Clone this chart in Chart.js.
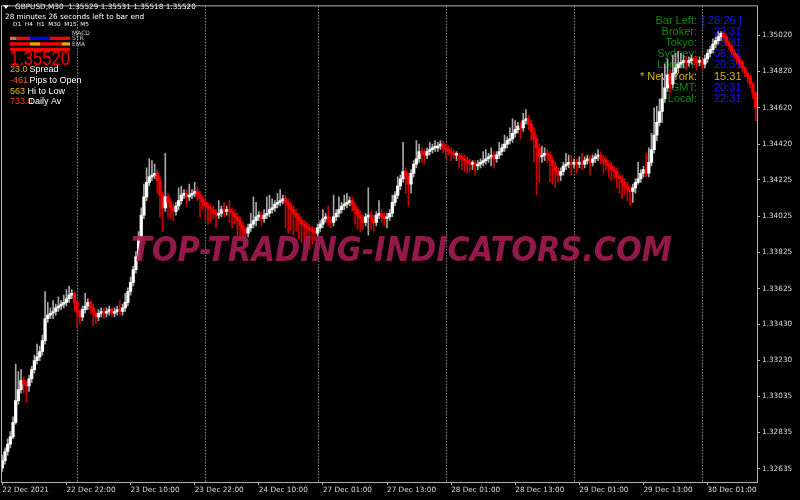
<!DOCTYPE html>
<html>
<head>
<meta charset="utf-8">
<script src="https://cdn.jsdelivr.net/npm/chart.js@4.4.1/dist/chart.umd.min.js"></script>
<style>
  html, body { margin: 0; padding: 0; background: #000; }
  #wrap { width: 800px; height: 500px; position: relative; }
</style>
</head>
<body>
<div id="wrap"><canvas id="chart"></canvas></div>
<script>
// GBPUSD M30, 22 Dec 2021 10:00 .. 30 Dec 2021 10:00, one entry per bar
const firstOpen = 1.3264;
const closes = [
  1.3268, 1.3273, 1.3277, 1.3281, 1.3289, 1.3301, 1.3307, 1.3312, 1.3310, 1.3309,
  1.3313, 1.3318, 1.3323, 1.3325, 1.3328, 1.3334, 1.3346, 1.3348, 1.3349, 1.3350,
  1.3352, 1.3353, 1.3354, 1.3355, 1.3357, 1.3359, 1.3360, 1.3355, 1.3350, 1.3347,
  1.3351, 1.3353, 1.3355, 1.3352, 1.3349, 1.3347, 1.3349, 1.3350, 1.3349, 1.3350,
  1.3351, 1.3349, 1.3350, 1.3351, 1.3350, 1.3352, 1.3355, 1.3361, 1.3366, 1.3373,
  1.3380, 1.3391, 1.3403, 1.3413, 1.3421, 1.3424, 1.3425, 1.3426, 1.3422, 1.3414,
  1.3407, 1.3413, 1.3410, 1.3407, 1.3405, 1.3408, 1.3411, 1.3414, 1.3415, 1.3413,
  1.3414, 1.3415, 1.3416, 1.3414, 1.3412, 1.3410, 1.3408, 1.3407, 1.3406, 1.3404,
  1.3403, 1.3404, 1.3406, 1.3405, 1.3406, 1.3405, 1.3404, 1.3402, 1.3400, 1.3397,
  1.3395, 1.3393, 1.3396, 1.3398, 1.3400, 1.3402, 1.3403, 1.3401, 1.3403, 1.3404,
  1.3406, 1.3407, 1.3409, 1.3410, 1.3411, 1.3412, 1.3410, 1.3408, 1.3406, 1.3404,
  1.3402, 1.3400, 1.3398, 1.3397, 1.3396, 1.3395, 1.3394, 1.3393, 1.3396, 1.3398,
  1.3401, 1.3402, 1.3400, 1.3399, 1.3402, 1.3404, 1.3406, 1.3408, 1.3409, 1.3410,
  1.3411, 1.3408, 1.3406, 1.3403, 1.3401, 1.3399, 1.3402, 1.3403, 1.3401, 1.3399,
  1.3403, 1.3404, 1.3402, 1.3401, 1.3402, 1.3404, 1.3410, 1.3414, 1.3419, 1.3423,
  1.3427, 1.3424, 1.3420, 1.3426, 1.3431, 1.3434, 1.3438, 1.3437, 1.3436, 1.3438,
  1.3439, 1.3440, 1.3440, 1.3441, 1.3442, 1.3440, 1.3439, 1.3438, 1.3437, 1.3436,
  1.3436, 1.3435, 1.3434, 1.3433, 1.3432, 1.3431, 1.3431, 1.3430, 1.3431, 1.3432,
  1.3433, 1.3434, 1.3435, 1.3436, 1.3434, 1.3436, 1.3438, 1.3440, 1.3442, 1.3444,
  1.3445, 1.3448, 1.3450, 1.3452, 1.3451, 1.3455, 1.3456, 1.3453, 1.3449, 1.3445,
  1.3440, 1.3435, 1.3436, 1.3437, 1.3436, 1.3433, 1.3430, 1.3427, 1.3425, 1.3427,
  1.3430, 1.3431, 1.3432, 1.3431, 1.3432, 1.3431, 1.3432, 1.3431, 1.3433, 1.3434,
  1.3432, 1.3434, 1.3435, 1.3436, 1.3434, 1.3433, 1.3431, 1.3430, 1.3428, 1.3427,
  1.3424, 1.3423, 1.3421, 1.3419, 1.3417, 1.3416, 1.3418, 1.3421, 1.3423, 1.3426,
  1.3428, 1.3426, 1.3432, 1.3439, 1.3447, 1.3454, 1.3460, 1.3467, 1.3473, 1.3480,
  1.3475, 1.3481, 1.3484, 1.3486, 1.3487, 1.3488, 1.3487, 1.3488, 1.3489, 1.3488,
  1.3487, 1.3488, 1.3486, 1.3489, 1.3492, 1.3494, 1.3497, 1.3499, 1.3501, 1.3503,
  1.3501, 1.3498, 1.3496, 1.3493, 1.3491, 1.3489, 1.3487, 1.3484, 1.3481, 1.3479,
  1.3475, 1.3470, 1.3462
];
const highs = [
  1.3271, 1.3275, 1.3280, 1.3284, 1.3292, 1.3321, 1.3317, 1.3318, 1.3314, 1.3312,
  1.3315, 1.3320, 1.3326, 1.3332, 1.3331, 1.3337, 1.3361, 1.3355, 1.3352, 1.3356,
  1.3354, 1.3358, 1.3356, 1.3359, 1.3362, 1.3364, 1.3362, 1.3361, 1.3356, 1.3351,
  1.3353, 1.3360, 1.3357, 1.3356, 1.3354, 1.3350, 1.3351, 1.3352, 1.3352, 1.3352,
  1.3353, 1.3352, 1.3352, 1.3353, 1.3356, 1.3354, 1.3360, 1.3363, 1.3369, 1.3375,
  1.3383, 1.3394, 1.3407, 1.3420, 1.3429, 1.3434, 1.3433, 1.3431, 1.3428, 1.3424,
  1.3416, 1.3437, 1.3415, 1.3412, 1.3409, 1.3410, 1.3418, 1.3419, 1.3417, 1.3417,
  1.3420, 1.3417, 1.3421, 1.3418, 1.3416, 1.3414, 1.3412, 1.3410, 1.3409, 1.3408,
  1.3406, 1.3411, 1.3408, 1.3410, 1.3408, 1.3411, 1.3407, 1.3406, 1.3404, 1.3402,
  1.3399, 1.3397, 1.3398, 1.3404, 1.3413, 1.3410, 1.3405, 1.3405, 1.3406, 1.3413,
  1.3414, 1.3412, 1.3411, 1.3415, 1.3417, 1.3414, 1.3414, 1.3412, 1.3410, 1.3408,
  1.3406, 1.3404, 1.3402, 1.3400, 1.3399, 1.3398, 1.3397, 1.3396, 1.3398, 1.3400,
  1.3406, 1.3404, 1.3408, 1.3402, 1.3414, 1.3406, 1.3413, 1.3410, 1.3414, 1.3415,
  1.3413, 1.3413, 1.3410, 1.3408, 1.3405, 1.3403, 1.3404, 1.3418, 1.3405, 1.3403,
  1.3405, 1.3411, 1.3406, 1.3404, 1.3404, 1.3406, 1.3414, 1.3416, 1.3424, 1.3425,
  1.3443, 1.3429, 1.3426, 1.3428, 1.3433, 1.3444, 1.3442, 1.3440, 1.3439, 1.3440,
  1.3443, 1.3442, 1.3444, 1.3443, 1.3444, 1.3444, 1.3442, 1.3441, 1.3440, 1.3439,
  1.3438, 1.3437, 1.3437, 1.3436, 1.3435, 1.3434, 1.3433, 1.3433, 1.3433, 1.3434,
  1.3438, 1.3439, 1.3437, 1.3440, 1.3438, 1.3438, 1.3443, 1.3442, 1.3447, 1.3446,
  1.3451, 1.3456, 1.3455, 1.3454, 1.3454, 1.3459, 1.3461, 1.3458, 1.3455, 1.3451,
  1.3447, 1.3442, 1.3441, 1.3440, 1.3439, 1.3438, 1.3435, 1.3432, 1.3429, 1.3429,
  1.3432, 1.3437, 1.3436, 1.3436, 1.3434, 1.3434, 1.3435, 1.3437, 1.3435, 1.3436,
  1.3436, 1.3436, 1.3437, 1.3439, 1.3438, 1.3436, 1.3435, 1.3433, 1.3432, 1.3430,
  1.3429, 1.3426, 1.3425, 1.3423, 1.3421, 1.3419, 1.3420, 1.3423, 1.3432, 1.3428,
  1.3430, 1.3437, 1.3440, 1.3448, 1.3462, 1.3463, 1.3467, 1.3481, 1.3486, 1.3489,
  1.3483, 1.3491, 1.3492, 1.3493, 1.3492, 1.3491, 1.3490, 1.3490, 1.3491, 1.3490,
  1.3490, 1.3490, 1.3489, 1.3491, 1.3494, 1.3496, 1.3500, 1.3501, 1.3504, 1.3504,
  1.3504, 1.3502, 1.3499, 1.3497, 1.3494, 1.3492, 1.3490, 1.3488, 1.3485, 1.3482,
  1.3480, 1.3476, 1.3471
];
const lows = [
  1.3262, 1.3266, 1.3271, 1.3275, 1.3280, 1.3288, 1.3299, 1.3305, 1.3305, 1.3300,
  1.3306, 1.3311, 1.3316, 1.3321, 1.3323, 1.3326, 1.3332, 1.3344, 1.3346, 1.3346,
  1.3348, 1.3350, 1.3351, 1.3352, 1.3353, 1.3355, 1.3357, 1.3350, 1.3341, 1.3343,
  1.3345, 1.3349, 1.3351, 1.3349, 1.3342, 1.3343, 1.3345, 1.3347, 1.3346, 1.3347,
  1.3348, 1.3347, 1.3347, 1.3348, 1.3348, 1.3348, 1.3350, 1.3353, 1.3359, 1.3364,
  1.3371, 1.3378, 1.3389, 1.3401, 1.3411, 1.3419, 1.3422, 1.3423, 1.3415, 1.3402,
  1.3394, 1.3405, 1.3402, 1.3401, 1.3400, 1.3403, 1.3406, 1.3409, 1.3412, 1.3408,
  1.3411, 1.3412, 1.3413, 1.3411, 1.3402, 1.3406, 1.3400, 1.3398, 1.3399, 1.3401,
  1.3396, 1.3401, 1.3402, 1.3402, 1.3403, 1.3399, 1.3396, 1.3398, 1.3390, 1.3389,
  1.3390, 1.3388, 1.3391, 1.3394, 1.3396, 1.3397, 1.3400, 1.3397, 1.3399, 1.3401,
  1.3402, 1.3404, 1.3405, 1.3407, 1.3408, 1.3409, 1.3396, 1.3393, 1.3395, 1.3392,
  1.3394, 1.3390, 1.3388, 1.3386, 1.3388, 1.3384, 1.3387, 1.3389, 1.3391, 1.3394,
  1.3396, 1.3399, 1.3397, 1.3396, 1.3397, 1.3400, 1.3402, 1.3404, 1.3406, 1.3407,
  1.3408, 1.3405, 1.3398, 1.3395, 1.3394, 1.3395, 1.3397, 1.3392, 1.3395, 1.3394,
  1.3397, 1.3401, 1.3399, 1.3397, 1.3396, 1.3400, 1.3402, 1.3408, 1.3412, 1.3417,
  1.3421, 1.3415, 1.3408, 1.3415, 1.3424, 1.3429, 1.3432, 1.3432, 1.3431, 1.3434,
  1.3436, 1.3437, 1.3438, 1.3438, 1.3439, 1.3437, 1.3434, 1.3436, 1.3433, 1.3434,
  1.3433, 1.3429, 1.3428, 1.3427, 1.3426, 1.3427, 1.3428, 1.3425, 1.3428, 1.3429,
  1.3430, 1.3431, 1.3432, 1.3430, 1.3429, 1.3432, 1.3434, 1.3436, 1.3438, 1.3440,
  1.3442, 1.3443, 1.3446, 1.3448, 1.3445, 1.3449, 1.3453, 1.3450, 1.3444, 1.3432,
  1.3414, 1.3421, 1.3432, 1.3433, 1.3432, 1.3421, 1.3420, 1.3418, 1.3421, 1.3422,
  1.3425, 1.3428, 1.3429, 1.3425, 1.3429, 1.3426, 1.3429, 1.3428, 1.3429, 1.3431,
  1.3425, 1.3430, 1.3432, 1.3433, 1.3431, 1.3426, 1.3428, 1.3424, 1.3422, 1.3423,
  1.3418, 1.3415, 1.3412, 1.3414, 1.3411, 1.3408, 1.3410, 1.3415, 1.3420, 1.3421,
  1.3424, 1.3424, 1.3424, 1.3430, 1.3437, 1.3444, 1.3452, 1.3454, 1.3465, 1.3471,
  1.3470, 1.3473, 1.3479, 1.3482, 1.3484, 1.3484, 1.3483, 1.3485, 1.3486, 1.3485,
  1.3483, 1.3485, 1.3483, 1.3484, 1.3487, 1.3490, 1.3492, 1.3495, 1.3497, 1.3499,
  1.3499, 1.3496, 1.3494, 1.3491, 1.3489, 1.3486, 1.3484, 1.3482, 1.3479, 1.3476,
  1.3473, 1.3467, 1.3455
];

// time axis: bar index of each label, label text, first bar of each day
const xTickBars = [0, 24, 48, 72, 96, 120, 144, 168, 192, 216, 240, 264];
const xTickText = ['22 Dec 2021', '22 Dec 22:00', '23 Dec 10:00', '23 Dec 22:00', '24 Dec 10:00', '27 Dec 01:00',
                   '27 Dec 13:00', '28 Dec 01:00', '28 Dec 13:00', '29 Dec 01:00', '29 Dec 13:00', '30 Dec 01:00'];
const daySepBars = [28, 76, 118, 166, 214, 262];

// price axis
const yTickValues = [1.35020, 1.34820, 1.34620, 1.34420, 1.34225, 1.34025, 1.33825,
                     1.33625, 1.33430, 1.33230, 1.33035, 1.32835, 1.32635];
const yMin = 1.32562;
const yMax = 1.35178;

// an M30 bar opens where the previous one closed
const opens = closes.map((c, i) => i === 0 ? firstOpen : closes[i - 1]);
const bull = closes.map((c, i) => c >= opens[i]);

function fitText(ctx, text, x, y, w) {
  const m = ctx.measureText(text).width;
  ctx.save();
  ctx.translate(x, y);
  ctx.scale(w / m, 1);
  ctx.fillText(text, 0, 0);
  ctx.restore();
}

const mtOverlay = {
  id: 'mtOverlay',
  beforeDatasetsDraw(chart) {
    const ctx = chart.ctx, ca = chart.chartArea, xs = chart.scales.x;
    ctx.save();

    // period separators
    ctx.strokeStyle = '#c8c8c8';
    ctx.lineWidth = 1;
    ctx.setLineDash([1, 2]);
    daySepBars.forEach(b => {
      const px = Math.round(xs.getPixelForValue(b)) + 0.5;
      ctx.beginPath();
      ctx.moveTo(px, ca.top);
      ctx.lineTo(px, ca.bottom);
      ctx.stroke();
    });
    ctx.setLineDash([]);

    // clock panel (top right)
    const rows = [
      ['Bar Left:', '[ 28:26 ]', 24], ['Broker:', '22:31', 35.2], ['Tokyo:', '05:31', 46.3],
      ['Sydney:', '06:31', 57.4], ['London:', '20:31', 68.4], ['* New York:', '15:31', 79.5],
      ['GMT:', '20:31', 90.6], ['Local:', '22:31', 101.6]
    ];
    ctx.font = '11px "Liberation Sans"';
    ctx.textBaseline = 'alphabetic';
    rows.forEach(r => {
      const ny = r[0] === '* New York:';
      ctx.textAlign = 'right';
      ctx.fillStyle = ny ? '#dcb400' : '#0c8a0c';
      ctx.fillText(r[0], 697, r[2]);
      ctx.textAlign = 'left';
      ctx.fillStyle = ny ? '#dcb400' : '#1818ff';
      ctx.fillText(r[1], r[1][0] === '[' ? 702 : 714, r[2]);
    });

    // info block (top left)
    ctx.textAlign = 'left';
    ctx.fillStyle = '#ffffff';
    ctx.beginPath();
    ctx.moveTo(3, 5); ctx.lineTo(9, 5); ctx.lineTo(6, 9);
    ctx.closePath();
    ctx.fill();
    ctx.font = '7.3px "DejaVu Sans"';
    ctx.textBaseline = 'middle';
    ctx.fillText('GBPUSD,M30  1.35529 1.35531 1.35518 1.35520', 15, 7.5);
    ctx.fillText('28 minutes 26 seconds left to bar end', 5, 17.5);
    ctx.font = '5.5px "DejaVu Sans"';
    fitText(ctx, 'D1  H4  H1  M30  M15  M5', 13, 24.5, 76);
    ctx.fillStyle = '#c8c8c8';
    ctx.font = '6px "DejaVu Sans"';
    ctx.fillText('MACD', 72, 33);
    ctx.fillText('STR', 72, 38.5);
    ctx.fillText('EMA', 72, 44);

    const strips = [
      [36.7, [[10, 16.7, '#f06050'], [16.7, 30, '#ff0000'], [30, 50, '#0000ff'], [50, 70, '#ff0000']]],
      [42.3, [[10, 30, '#ff0000'], [30, 40, '#ffa000'], [40, 61.7, '#ff0000'], [61.7, 70, '#ffa000']]],
      [47.7, [[10, 70, '#ff0000']]]
    ];
    strips.forEach(s => s[1].forEach(seg => {
      ctx.fillStyle = seg[2];
      ctx.fillRect(seg[0], s[0], seg[1] - seg[0], 3.3);
    }));

    ctx.textBaseline = 'alphabetic';
    ctx.fillStyle = '#ff0000';
    ctx.font = '20px "Liberation Sans"';
    fitText(ctx, '1.35520', 10, 65, 60);

    const stats = [
      ['23.0', '#dcbc10', 'Spread', 29.5, 71.7],
      ['-461', '#f25c24', 'Pips to Open', 29.5, 83],
      ['563', '#dcc400', 'Hi to Low', 27.5, 94],
      ['733.0', '#e84a14', 'Daily Av', 28.5, 104.3]
    ];
    ctx.font = '9px "Liberation Sans"';
    stats.forEach(s => {
      ctx.fillStyle = s[1];
      ctx.fillText(s[0], 10, s[4]);
      ctx.fillStyle = '#ffffff';
      ctx.fillText(s[2], s[3], s[4]);
    });
    ctx.restore();
  },
  afterDatasetsDraw(chart) {
    const ctx = chart.ctx, ca = chart.chartArea;
    ctx.save();
    // watermark
    ctx.globalAlpha = 0.9;
    ctx.fillStyle = '#a31c52';
    ctx.font = 'italic bold 33px "DejaVu Sans"';
    ctx.textBaseline = 'alphabetic';
    fitText(ctx, 'TOP-TRADING-INDICATORS.COM', 131, 260.5, 541);
    ctx.globalAlpha = 1;
    // chart frame
    ctx.strokeStyle = '#b4b4b4';
    ctx.lineWidth = 1;
    ctx.strokeRect(ca.left + 0.5, ca.top - 0.5, ca.right - ca.left, ca.bottom - ca.top + 1);
    ctx.restore();
  }
};

const axisFont = { family: 'DejaVu Sans', size: 7.3 };

new Chart(document.getElementById('chart'), {
  type: 'bar',
  data: {
    labels: closes.map((c, i) => i),
    datasets: [
      {
        label: 'body',
        data: opens.map((o, i) => [o, closes[i]]),
        backgroundColor: bull.map(b => b ? '#ffffff' : '#ff0000'),
        barThickness: 2.6,
        minBarLength: 1.5,
        grouped: false,
        order: 0
      },
      {
        label: 'wick',
        data: lows.map((l, i) => [l, highs[i]]),
        backgroundColor: bull.map(b => b ? '#a8a8a8' : '#cc0000'),
        barThickness: 1,
        grouped: false,
        order: 1
      }
    ]
  },
  options: {
    responsive: true,
    maintainAspectRatio: false,
    animation: false,
    layout: { padding: { left: 1, top: 2, right: 0, bottom: 0 } },
    plugins: { legend: { display: false }, tooltip: { enabled: false } },
    scales: {
      x: {
        offset: true,
        grid: { offset: false, drawOnChartArea: false, drawTicks: true, tickLength: 3, color: '#b4b4b4' },
        border: { display: false },
        ticks: {
          autoSkip: false, maxRotation: 0, align: 'start', padding: 1,
          color: '#dcdcdc', font: axisFont,
          callback: v => xTickText[xTickBars.indexOf(v)]
        },
        afterBuildTicks: s => { s.ticks = xTickBars.map(v => ({ value: v })); },
        afterFit: s => { s.height = 18; }
      },
      y: {
        position: 'right',
        min: yMin,
        max: yMax,
        grid: { drawOnChartArea: false, drawTicks: true, tickLength: 3, color: '#b4b4b4' },
        border: { display: false },
        ticks: { padding: 2, color: '#dcdcdc', font: axisFont, callback: v => v.toFixed(5) },
        afterBuildTicks: s => { s.ticks = yTickValues.map(v => ({ value: v })); },
        afterFit: s => { s.width = 43; }
      }
    }
  },
  plugins: [mtOverlay]
});
</script>
</body>
</html>
